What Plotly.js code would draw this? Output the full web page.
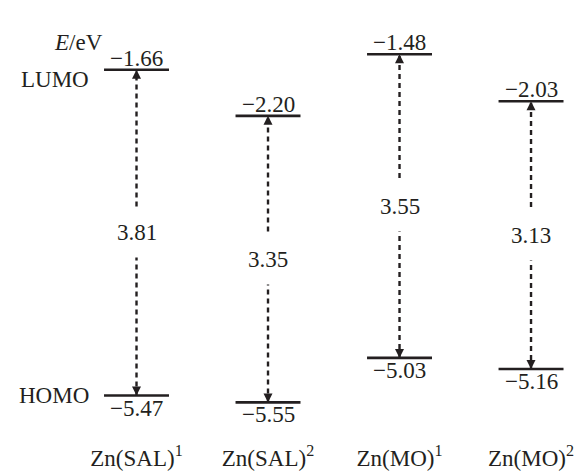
<!DOCTYPE html>
<html><head><meta charset="utf-8">
<script src="https://cdn.plot.ly/plotly-3.0.1.min.js"></script>
<style>html,body{margin:0;padding:0;background:#fff}#chart{width:586px;height:475px}</style>
</head><body><div id="chart"></div>
<script>
// ---- data ----
const compounds = ['Zn(SAL)<sup>1</sup>', 'Zn(SAL)<sup>2</sup>', 'Zn(MO)<sup>1</sup>', 'Zn(MO)<sup>2</sup>'];
const lumo = [-1.66, -2.20, -1.48, -2.03];   // eV
const homo = [-5.47, -5.55, -5.03, -5.16];   // eV
const gap  = [3.81, 3.35, 3.55, 3.13];       // eV
const levelNames = ['LUMO', 'HOMO'];
const axisLabel = '<i>E</i>/eV';

// ---- styling ----
const FONT = '"Liberation Serif", "Times New Roman", serif';
const INK = '#231f20';
const FS = 23;
const fmt = v => (v < 0 ? '\u2212' : '') + Math.abs(v).toFixed(2);

const traces = [];
// dashed arrow shafts
compounds.forEach((c, i) => {
  traces.push({
    type: 'scatter', mode: 'lines', x: [c, c], y: [homo[i], lumo[i]],
    line: {color: INK, width: 2.4, dash: '5px,4px'},
    hoverinfo: 'skip', showlegend: false, cliponaxis: false
  });
});
// arrow heads
traces.push({type: 'scatter', mode: 'markers', x: compounds, y: lumo,
  marker: {symbol: 'arrow-up', size: 9, color: INK, line: {width: 0}},
  hoverinfo: 'skip', showlegend: false, cliponaxis: false});
traces.push({type: 'scatter', mode: 'markers', x: compounds, y: homo,
  marker: {symbol: 'arrow-down', size: 9, color: INK, line: {width: 0}},
  hoverinfo: 'skip', showlegend: false, cliponaxis: false});
// energy levels
traces.push({type: 'scatter', mode: 'markers', x: compounds.concat(compounds), y: lumo.concat(homo),
  marker: {symbol: 'line-ew-open', size: 46.4, color: INK, line: {width: 2.6}},
  hoverinfo: 'skip', showlegend: false, cliponaxis: false});

const ann = [];
const tf = {family: FONT, size: FS, color: INK};
compounds.forEach((c, i) => {
  ann.push({x: c, y: lumo[i], xref: 'x', yref: 'y', text: fmt(lumo[i]), showarrow: false,
    yanchor: 'bottom', yshift: -3, font: tf});
  ann.push({x: c, y: homo[i], xref: 'x', yref: 'y', text: fmt(homo[i]), showarrow: false,
    yanchor: 'top', yshift: 2, font: tf});
  ann.push({x: c, y: (lumo[i] + homo[i]) / 2, xref: 'x', yref: 'y', text: gap[i].toFixed(2),
    showarrow: false, bgcolor: '#ffffff', borderpad: 12, font: tf});
});
ann.push({x: compounds[0], y: lumo[0], xref: 'x', yref: 'y', text: levelNames[0], showarrow: false,
  xanchor: 'right', xshift: -46, yshift: -10, font: tf});
ann.push({x: compounds[0], y: homo[0], xref: 'x', yref: 'y', text: levelNames[1], showarrow: false,
  xanchor: 'right', xshift: -46, yshift: 0, font: tf});
ann.push({x: compounds[0], y: lumo[0], xref: 'x', yref: 'y', text: axisLabel, showarrow: false,
  xanchor: 'right', xshift: -32, yshift: 27, font: tf});

const layout = {
  width: 586, height: 475,
  margin: {l: 0, r: 0, t: 20, b: 33},
  paper_bgcolor: '#ffffff', plot_bgcolor: '#ffffff',
  showlegend: false,
  xaxis: {type: 'category', range: [-1.038, 3.418], showgrid: false, zeroline: false,
    showline: false, ticks: '', tickfont: tf, fixedrange: true},
  yaxis: {range: [-6.013, -1.0792], visible: false, fixedrange: true},
  annotations: ann,
  font: {family: FONT, color: INK}
};
Plotly.newPlot('chart', traces, layout, {staticPlot: true});
</script>
</body></html>
